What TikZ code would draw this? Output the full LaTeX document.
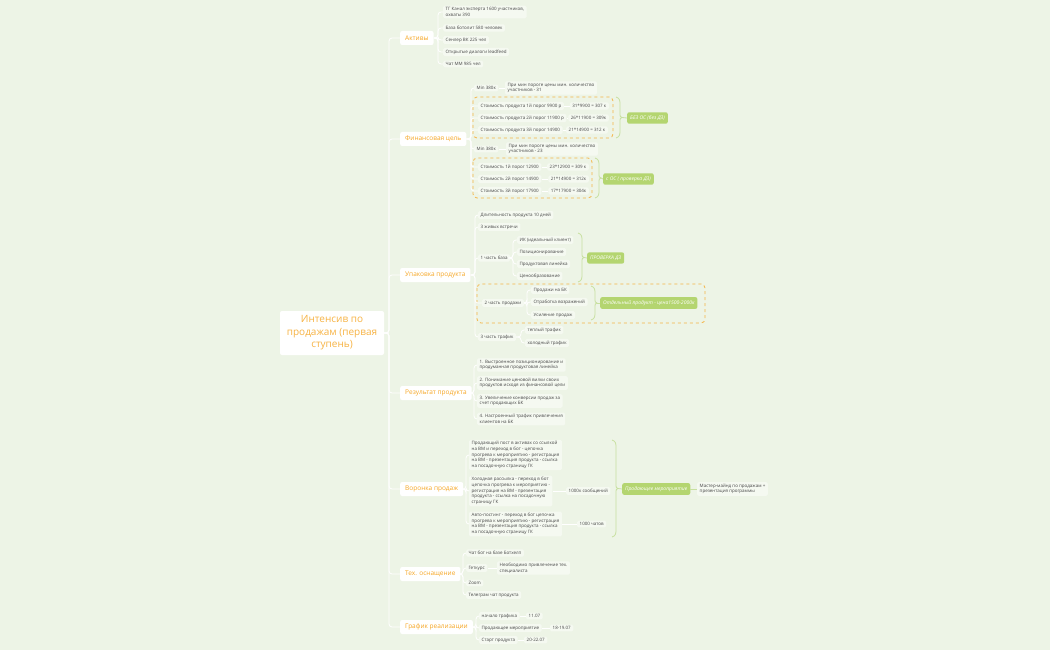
\documentclass[tikz,border=0pt]{standalone}
\usepackage{fontspec}
\setmainfont{Open Sans}
\definecolor{bg}{RGB}{237,244,230}
\definecolor{kidfill}{RGB}{245,249,241}
\definecolor{txt}{RGB}{70,70,70}
\definecolor{orng}{RGB}{246,166,35}
\definecolor{grn}{RGB}{180,213,112}
\definecolor{grnline}{RGB}{200,224,160}
\definecolor{dashc}{RGB}{245,180,70}
\tikzset{
  kid/.style={anchor=west, fill=kidfill, rounded corners=1.5pt, text=txt, font=\fontsize{4.5}{5.6}\selectfont, inner xsep=2.5pt, inner ysep=1.8pt, align=left},
  mainbox/.style={anchor=west, fill=white, rounded corners=2pt, text=orng, font=\fontsize{6.5}{8}\selectfont, inner xsep=5pt, minimum height=14pt},
  pill/.style={anchor=west, fill=grn, rounded corners=2pt, text=white, font=\fontsize{5}{6}\selectfont\itshape, inner xsep=3pt, minimum height=9.5pt},
  conn/.style={draw=white, line width=0.8pt, rounded corners=3pt},
  braceline/.style={draw=grnline, line width=0.8pt},
  dashbox/.style={draw=dashc, dashed, line width=0.8pt, rounded corners=4pt},
}
\newcommand{\summbrace}[4]{%
  \coordinate (#4) at ({#1+6},{(#2+#3)/2});
  \draw[braceline] (#1,#2) .. controls ({#1+4},{#2+1}) and ({#1+4},{#2+4}) .. ({#1+4},{#2+8}) -- ({#1+4},{(#2+#3)/2-3}) .. controls ({#1+4},{(#2+#3)/2-1}) .. (#4) .. controls ({#1+4},{(#2+#3)/2+1}) .. ({#1+4},{(#2+#3)/2+3}) -- ({#1+4},{#3-8}) .. controls ({#1+4},{#3-4}) and ({#1+4},{#3-1}) .. (#1,#3);
}
\newcommand{\kids}[3]{\foreach \c in {#3} {\draw[conn] (#1.east) -- (#2) |- (\c.west);}}
\begin{document}
\begin{tikzpicture}[x=1pt,y=-1pt]
\useasboundingbox (0,0) rectangle (1050,650);
\fill[bg] (0,0) rectangle (1050,650);

% dashed boundaries
\draw[dashbox] (473,97) rectangle (613,138);
\draw[dashbox] (473,158) rectangle (592,198);
\draw[dashbox] (477,284) rectangle (705,323);

% center
\node[fill=white, rounded corners=2pt, text=orng!85!white, font=\fontsize{10}{12.5}\selectfont, align=center, minimum width=104pt, minimum height=44pt] (center) at (332,333) {Интенсив по\\продажам (первая\\ступень)};
\coordinate (trunk) at (389,333);

% main nodes
\node[mainbox] (aktivy) at (400,38) {Активы};
\node[mainbox] (fin) at (400,139) {Финансовая цель};
\node[mainbox] (upak) at (400,275) {Упаковка продукта};
\node[mainbox] (rez) at (400,393) {Результат продукта};
\node[mainbox] (vor) at (400,489) {Воронка продаж};
\node[mainbox] (tech) at (400,574) {Тех. оснащение};
\node[mainbox] (graf) at (400,627) {График реализации};
\foreach \m in {aktivy,fin,upak,rez,vor,tech,graf} {\draw[conn] (center.east) -- (trunk) |- (\m.west);}

% Активы
\node[kid] (a1) at (443,12) {ТГ Канал эксперта 1600 участников,\\охваты 390};
\node[kid] (a2) at (443,28) {База ботолит 580 человек};
\node[kid] (a3) at (443,40) {Сенлер ВК 225 чел};
\node[kid] (a4) at (443,52) {Открытые диалоги leadfeed};
\node[kid] (a5) at (443,64) {Чат ММ  985 чел};
\coordinate (sA) at (438,38);
\kids{aktivy}{sA}{a1,a2,a3,a4,a5}

% Финансовая цель
\node[kid] (f1) at (474,88) {Min 380к};
\node[kid] (f1a) at (505,88) {При мин пороге цены мин. количество\\участников - 31};
\node[kid] (f2) at (478,106) {Стоимость продукта 1й порог 9900 р};
\node[kid, anchor=east] (f2a) at (609,106) {31*9900 = 307 к};
\node[kid] (f3) at (478,118) {Стоимость продукта 2й порог 11900 р};
\node[kid, anchor=east] (f3a) at (609,118) {26*11900 = 309к};
\node[kid] (f4) at (478,130) {Стоимость продукта 3й порог 14900};
\node[kid, anchor=east] (f4a) at (608,130) {21*14900 = 312 к};
\node[kid] (f5) at (474,149) {Min 380к};
\node[kid] (f5a) at (506,149) {При мин пороге цены мин. количество\\участников - 23};
\node[kid] (f6) at (478,167) {Стоимость 1й порог  12900};
\node[kid, anchor=east] (f6a) at (589,167) {23*12900 = 309 к};
\node[kid] (f7) at (478,179) {Стоимость 2й порог  14900};
\node[kid, anchor=east] (f7a) at (589,179) {21*14900 = 312к};
\node[kid] (f8) at (478,191) {Стоимость 3й порог  17900};
\node[kid, anchor=east] (f8a) at (589,191) {17*17900 = 304к};
\coordinate (sF) at (471,139);
\kids{fin}{sF}{f1,f2,f3,f4,f5,f6,f7,f8}
\foreach \p/\q in {f1/f1a,f2/f2a,f3/f3a,f4/f4a,f5/f5a,f6/f6a,f7/f7a,f8/f8a} {\draw[conn] (\p.east) -- (\q.west);}
\summbrace{616}{97}{138}{bF1}
\node[pill] (p1) at (627,118) {БЕЗ ОС (без ДЗ)};
\draw[braceline] (bF1) -- (p1.west);
\summbrace{595}{158}{198}{bF2}
\node[pill] (p2) at (603,179) {с ОС ( проверка ДЗ)};
\draw[braceline] (bF2) -- (p2.west);

% Упаковка продукта
\node[kid] (u1) at (478,215) {Длительность продукта 10 дней};
\node[kid] (u2) at (478,227) {3 живых встречи};
\node[kid] (u3) at (478,258) {1 часть база};
\node[kid] (u3a) at (517,240) {ИК (идеальный клиент)};
\node[kid] (u3b) at (517,252) {Позиционирование};
\node[kid] (u3c) at (517,264) {Продуктовая линейка};
\node[kid] (u3d) at (517,276) {Ценообразование};
\node[kid] (u4) at (482,303) {2 часть продажи};
\node[kid] (u4a) at (531,290) {Продажи на БК};
\node[kid] (u4b) at (531,302) {Отработка возражений};
\node[kid] (u4c) at (531,315) {Усиление продаж};
\node[kid] (u5) at (478,337) {3 часть трафик};
\node[kid] (u5a) at (525,330) {теплый трафик};
\node[kid] (u5b) at (525,343) {холодный трафик};
\coordinate (sU) at (475,275);
\kids{upak}{sU}{u1,u2,u3,u4,u5}
\coordinate (sU3) at (513,258);
\kids{u3}{sU3}{u3a,u3b,u3c,u3d}
\coordinate (sU4) at (527,303);
\kids{u4}{sU4}{u4a,u4b,u4c}
\coordinate (sU5) at (521,337);
\kids{u5}{sU5}{u5a,u5b}
\summbrace{578}{233}{282}{bU3}
\node[pill] (p3) at (587,258) {ПРОВЕРКА ДЗ};
\draw[braceline] (bU3) -- (p3.west);
\summbrace{591}{286}{320}{bU4}
\node[pill] (p4) at (600,303) {Отдельный продукт - цена1500-2000к};
\draw[braceline] (bU4) -- (p4.west);

% Результат продукта
\node[kid] (r1) at (477,365) {1. Выстроенное позиционирование и\\продуманная продуктовая линейка};
\node[kid] (r2) at (477,383) {2. Понимание ценовой вилки своих\\продуктов исходя из финансовой цели};
\node[kid] (r3) at (477,401) {3. Увеличение конверсии продаж за\\счет продающих БК};
\node[kid] (r4) at (477,419) {4. Настроенный трафик привлечения\\клиентов на БК};
\coordinate (sR) at (474,393);
\kids{rez}{sR}{r1,r2,r3,r4}

% Воронка продаж
\node[kid] (v1) at (469,455) {Продающий пост в активах  со ссылкой\\на ВМ и переход в бот - цепочка\\прогрева к мероприятию - регистрация\\на ВМ - презентация продукта  - ссылка\\на посадочную страницу ГК};
\node[kid] (v2) at (469,491) {Холодная рассылка - переход  в бот\\цепочка прогрева к мероприятию -\\регистрация на ВМ - презентация\\продукта  - ссылка на посадочную\\страницу ГК};
\node[kid] (v2a) at (566,491) {1000к сообщений};
\node[kid] (v3) at (469,524) {Авто-постинг - переход  в бот  цепочка\\прогрева к мероприятию - регистрация\\на ВМ - презентация продукта  - ссылка\\на посадочную страницу ГК};
\node[kid] (v3a) at (577,524) {1000 чатов};
\coordinate (sV) at (466,489);
\kids{vor}{sV}{v1,v2,v3}
\draw[conn] (v2.east) -- (v2a.west);
\draw[conn] (v3.east) -- (v3a.west);
\summbrace{612}{440}{537}{bV}
\node[pill] (p5) at (622,489) {Продающее мероприятие};
\draw[braceline] (bV) -- (p5.west);
\node[kid] (v4) at (697,489) {Мастер-майнд по продажам +\\презентация программы};
\draw[braceline] (p5.east) -- (v4.west);

% Тех. оснащение
\node[kid] (t1) at (466,553) {Чат бот на базе Ботхелп};
\node[kid] (t2) at (466,568) {Геткурс};
\node[kid] (t2a) at (497,568) {Необходимо привлечение тех.\\специалиста};
\node[kid] (t3) at (466,583) {Zoom};
\node[kid] (t4) at (466,595) {Телеграм чат продукта};
\coordinate (sT) at (463,574);
\kids{tech}{sT}{t1,t2,t3,t4}
\draw[conn] (t2.east) -- (t2a.west);

% График реализации
\node[kid] (g1) at (479,616) {начало трафика};
\node[kid] (g1a) at (526,616) {11.07};
\node[kid] (g2) at (479,628) {Продающее мероприятие};
\node[kid] (g2a) at (550,628) {18-19.07};
\node[kid] (g3) at (479,640) {Старт продукта};
\node[kid] (g3a) at (524,640) {20-22.07};
\coordinate (sG) at (476,627);
\kids{graf}{sG}{g1,g2,g3}
\foreach \p/\q in {g1/g1a,g2/g2a,g3/g3a} {\draw[conn] (\p.east) -- (\q.west);}
\end{tikzpicture}
\end{document}
